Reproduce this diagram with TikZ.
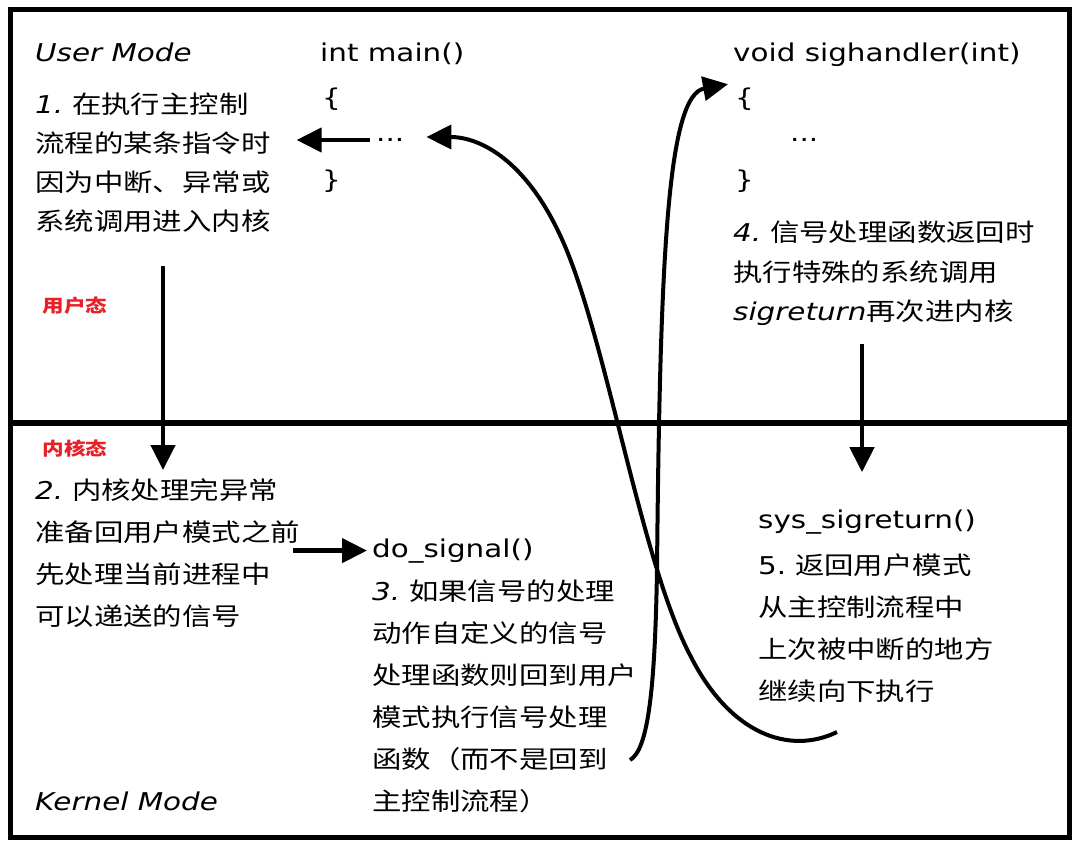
\documentclass[tikz,border=0pt]{standalone}
\usepackage{fontspec}
\setmainfont{DejaVu Sans}[FakeStretch=1.2]
\newfontfamily\zhfont{Noto Sans CJK SC}[FakeStretch=1.2]
\usetikzlibrary{positioning,arrows.meta}
\definecolor{modered}{RGB}{232,32,40}
\newcommand{\stepno}[1]{{\normalfont\itshape #1}}

\begin{document}
\begin{tikzpicture}[x=1pt,y=-1pt,
    txt/.style={inner sep=0,anchor=base west,font=\fontsize{24.5}{41}\selectfont},
    modename/.style={txt,font=\itshape\fontsize{24.5}{41}\selectfont},
    zhtxt/.style={inner sep=0,anchor=north west,align=left,font=\zhfont\fontsize{24.5}{#1}\selectfont},
    zhtxt/.default=42,
    modelabel/.style={inner sep=0,font=\zhfont\bfseries\fontsize{18}{20}\selectfont,text=modered},
    >={Triangle[length=25pt,width=24pt]},
    arr/.style={draw,->,line width=4.5pt},
    curvearr/.style={draw,->,line width=4pt}
    ]
    \useasboundingbox (0,0) rectangle (1083,854);
    %%% frame and mode divider
    \draw[line width=5pt] (10,9) rectangle (1069,837);
    \draw[line width=6pt] (10,423) -- (1069,423);
    \coordinate (trap) at (163,423);
    \coordinate (sigpass) at (862,423);
    %%% user mode
    \node[modename] (usermode) at (35,61) {User Mode};
    \node[zhtxt=39] (step1) at (35,93) {\stepno{1.} 在执行主控制\\流程的某条指令时\\因为中断、异常或\\系统调用进入内核};
    \node[modelabel] (userlabel) at (75,306) {用户态};
    \node[txt] (mainsig) at (320,61) {int main()};
    \node[txt] (mainopen) at (322,106) {\{};
    \node[txt,anchor=west] (maindots) at (376,140) {...};
    \node[txt] (mainclose) at (322,188) {\}};
    \node[txt] (sigsig) at (733,61) {void sighandler(int)};
    \node[txt] (sigopen) at (735,106) {\{};
    \node[txt,anchor=west] (sigdots) at (790,140) {...};
    \node[txt] (sigclose) at (735,188) {\}};
    \node[zhtxt=39.5] (step4) at (733,221) {\stepno{4.} 信号处理函数返回时\\执行特殊的系统调用\\\stepno{sigreturn}再次进内核};
    %%% kernel mode
    \node[modelabel] (kernellabel) at (75,449) {内核态};
    \node[zhtxt] (step2) at (35,478) {\stepno{2.} 内核处理完异常\\准备回用户模式之前\\先处理当前进程中\\可以递送的信号};
    \node[txt] (dosig) at (372,557) {do\_signal()};
    \node[zhtxt] (step3) at (372,580) {\stepno{3.} 如果信号的处理\\动作自定义的信号\\处理函数则回到用户\\模式执行信号处理\\函数（而不是回到\\主控制流程）};
    \node[txt] (sysret) at (758,528) {sys\_sigreturn()};
    \node[zhtxt] (step5) at (758,554) {{\normalfont 5.} 返回用户模式\\从主控制流程中\\上次被中断的地方\\继续向下执行};
    \node[modename] (kernelmode) at (35,810) {Kernel Mode};
    %%% loose ends of the two long curves
    \coordinate (handlerjump) at (630,760);
    \coordinate (resume) at (837,732);
    %%% straight arrows
    \path
        (maindots.west) edge[arr,shorten <=6pt,shorten >=26pt] (maindots.west -| step1.east)
        (step1.south -| trap) edge[arr,shorten <=33pt,shorten >=8pt] (step2.north -| trap)
        (step2.east |- dosig.west) edge[arr,shorten <=-7pt,shorten >=5pt] (dosig.west)
        (step4.south -| sigpass) edge[arr,shorten <=18pt,shorten >=37pt] (sysret.north -| sigpass);
    %%% into the handler and back to main
    \path[curvearr] (handlerjump) .. controls (648,750) and (655,690) .. (657,570)
        .. controls (660,250) and (668,95) .. ([xshift=-7pt,yshift=3pt]sigopen.north west);
    \path[curvearr] (resume) .. controls (790,755) and (730,735) .. (690,655)
        .. controls (640,560) and (605,330) .. (560,235)
        .. controls (525,160) and (480,137) .. ([xshift=22pt,yshift=3pt]maindots.east);
\end{tikzpicture}
\end{document}
